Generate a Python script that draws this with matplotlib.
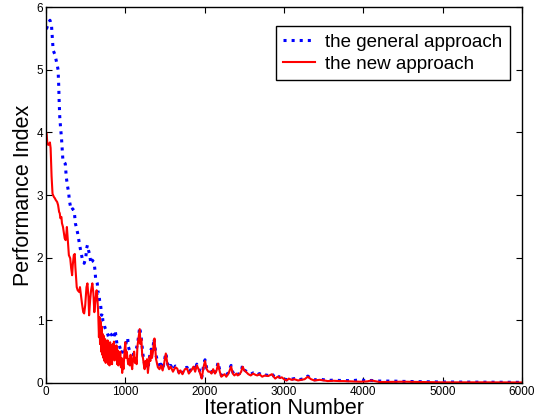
import numpy as np
import matplotlib
matplotlib.use("Agg")
import matplotlib.pyplot as plt

plt.rcParams['font.family'] = ['Liberation Sans', 'DejaVu Sans']

## Performance index, general approach (blue dotted)

general_iter = [0, 8, 25, 50, 70, 90, 110, 123, 140, 152, 160, 165, 173, 185, 194, 205, 214, 230, 243, 255,
                270, 284, 296, 310, 317, 337, 350, 358, 370, 385, 399, 420, 440, 461, 481, 490, 502, 512, 522, 535,
                552, 564, 575, 584, 595, 605, 617, 625, 646, 658, 667, 675, 688, 700, 708, 716, 728, 741, 755, 769,
                790, 811, 831, 852, 872, 893, 914, 935, 954, 975, 995, 1016, 1029, 1037, 1058, 1078, 1100, 1119, 1140, 1160,
                1181, 1202, 1222, 1243, 1263, 1284, 1305, 1325, 1346, 1360, 1387, 1410, 1430, 1448, 1470, 1490, 1510, 1530, 1550, 1572,
                1600, 1630, 1654, 1675, 1695, 1720, 1750, 1778, 1800, 1830, 1860, 1880, 1901, 1930, 1963, 1985, 2004, 2025, 2046, 2066,
                2086, 2107, 2130, 2150, 2169, 2190, 2210, 2230, 2250, 2272, 2300, 2333, 2355, 2374, 2400, 2416, 2440, 2460, 2478, 2500,
                2519, 2550, 2580, 2610, 2640, 2663, 2690, 2725, 2760, 2800, 2848, 2870, 2889, 2920, 2950, 2972, 3000, 3033, 3060, 3095,
                3130, 3177, 3220, 3260, 3300, 3340, 3383, 3450, 3506, 3550, 3620, 3700, 3753, 3850, 3959, 4050, 4100, 4206, 4370, 4500,
                5000, 5500, 6000]
general_perf = [5.66, 5.66, 5.72, 5.79, 5.69, 5.31, 5.25, 5.18, 5.08, 5.00, 4.75, 4.52, 4.25, 4.05, 3.93, 3.72, 3.53, 3.52, 3.50, 3.29,
                3.15, 3.05, 2.90, 2.80, 2.76, 2.78, 2.75, 2.71, 2.55, 2.47, 2.39, 2.23, 2.09, 1.96, 1.91, 1.95, 2.01, 2.15, 2.20, 2.12,
                2.04, 1.91, 1.95, 1.96, 1.94, 1.93, 1.80, 1.67, 1.59, 1.43, 1.43, 1.32, 1.25, 1.08, 1.11, 1.00, 0.97, 0.89, 0.85, 0.81,
                0.73, 0.79, 0.76, 0.71, 0.84, 0.63, 0.64, 0.55, 0.47, 0.55, 0.50, 0.71, 0.72, 0.58, 0.50, 0.47, 0.45, 0.50, 0.55, 0.68,
                0.89, 0.70, 0.45, 0.30, 0.34, 0.22, 0.42, 0.54, 0.52, 0.71, 0.44, 0.32, 0.24, 0.30, 0.22, 0.34, 0.48, 0.32, 0.24, 0.28,
                0.20, 0.27, 0.25, 0.17, 0.22, 0.16, 0.24, 0.25, 0.17, 0.22, 0.28, 0.20, 0.30, 0.22, 0.09, 0.27, 0.37, 0.24, 0.20, 0.19,
                0.17, 0.23, 0.17, 0.22, 0.33, 0.20, 0.12, 0.14, 0.15, 0.12, 0.17, 0.28, 0.17, 0.13, 0.16, 0.14, 0.15, 0.19, 0.28, 0.21,
                0.19, 0.15, 0.14, 0.16, 0.14, 0.13, 0.15, 0.12, 0.13, 0.12, 0.15, 0.11, 0.08, 0.11, 0.09, 0.10, 0.07, 0.05, 0.08, 0.06,
                0.07, 0.05, 0.06, 0.07, 0.11, 0.07, 0.05, 0.06, 0.05, 0.04, 0.045, 0.04, 0.04, 0.035, 0.05, 0.035, 0.04, 0.03, 0.03, 0.025,
                0.015, 0.012, 0.01]

## Performance index, new approach (red solid)

new_iter = [0, 8, 16, 28, 40, 49, 58, 70, 82, 99, 111, 123, 140, 152, 165, 173, 181, 194, 201, 214,
            225, 235, 247, 255, 263, 276, 288, 305, 317, 329, 337, 350, 362, 370, 387, 399, 420, 428, 440, 453,
            469, 481, 494, 510, 522, 535, 543, 556, 568, 584, 597, 609, 625, 638, 650, 658, 667, 674, 681, 688,
            695, 702, 709, 716, 723, 730, 737, 745, 752, 760, 768, 776, 784, 792, 800, 808, 816, 824, 832, 840,
            848, 856, 864, 872, 880, 888, 896, 904, 912, 920, 928, 936, 944, 952, 960, 968, 976, 984, 992, 1000,
            1008, 1016, 1025, 1035, 1045, 1055, 1066, 1076, 1086, 1096, 1111, 1121, 1132, 1142, 1152, 1165, 1175, 1181, 1190, 1202,
            1212, 1222, 1232, 1243, 1253, 1263, 1273, 1284, 1295, 1305, 1315, 1325, 1336, 1346, 1357, 1367, 1377, 1387, 1398, 1410,
            1430, 1448, 1470, 1490, 1510, 1530, 1550, 1572, 1600, 1630, 1654, 1675, 1695, 1720, 1750, 1778, 1800, 1830, 1860, 1880,
            1901, 1930, 1963, 1985, 2004, 2025, 2046, 2066, 2086, 2107, 2130, 2150, 2169, 2190, 2210, 2230, 2250, 2272, 2300, 2333,
            2355, 2374, 2400, 2416, 2440, 2460, 2478, 2500, 2519, 2550, 2580, 2610, 2640, 2663, 2690, 2725, 2760, 2800, 2848, 2870,
            2889, 2920, 2950, 2972, 3000, 3033, 3060, 3095, 3130, 3177, 3220, 3260, 3300, 3340, 3383, 3450, 3506, 3550, 3620, 3700,
            3753, 3850, 3959, 4050, 4100, 4206, 4500, 5000, 5500, 6000]
new_perf = [4.00, 3.98, 3.83, 3.80, 3.82, 3.84, 3.75, 3.30, 3.02, 2.97, 2.95, 2.92, 2.89, 2.84, 2.73, 2.71, 2.63, 2.65, 2.55, 2.49,
            2.40, 2.31, 2.28, 2.36, 2.49, 2.25, 2.04, 1.99, 1.83, 1.72, 1.88, 2.04, 2.06, 1.85, 1.53, 1.48, 1.45, 1.53, 1.40, 1.27,
            1.13, 1.11, 1.24, 1.53, 1.59, 1.37, 1.08, 1.32, 1.48, 1.59, 1.43, 1.13, 1.35, 1.48, 1.29, 1.11, 0.73, 1.05, 0.62, 0.98,
            0.50, 0.90, 0.45, 0.78, 0.40, 0.75, 0.35, 0.70, 0.32, 0.62, 0.40, 0.68, 0.30, 0.60, 0.28, 0.65, 0.35, 0.55, 0.30, 0.62,
            0.38, 0.66, 0.36, 0.55, 0.40, 0.60, 0.30, 0.52, 0.28, 0.48, 0.35, 0.50, 0.25, 0.40, 0.16, 0.35, 0.22, 0.40, 0.55, 0.65,
            0.40, 0.50, 0.42, 0.30, 0.38, 0.28, 0.45, 0.30, 0.22, 0.38, 0.50, 0.32, 0.40, 0.30, 0.58, 0.70, 0.80, 0.86, 0.62, 0.70,
            0.45, 0.40, 0.30, 0.22, 0.35, 0.28, 0.38, 0.16, 0.30, 0.42, 0.35, 0.52, 0.40, 0.48, 0.62, 0.71, 0.55, 0.38, 0.32, 0.25,
            0.22, 0.28, 0.20, 0.32, 0.47, 0.30, 0.22, 0.26, 0.18, 0.25, 0.23, 0.15, 0.20, 0.14, 0.22, 0.23, 0.15, 0.20, 0.26, 0.18,
            0.28, 0.20, 0.07, 0.25, 0.35, 0.22, 0.18, 0.18, 0.15, 0.22, 0.15, 0.20, 0.31, 0.18, 0.10, 0.12, 0.14, 0.10, 0.15, 0.26,
            0.15, 0.12, 0.15, 0.12, 0.14, 0.18, 0.26, 0.20, 0.18, 0.14, 0.12, 0.15, 0.13, 0.12, 0.14, 0.10, 0.12, 0.11, 0.14, 0.10,
            0.07, 0.10, 0.08, 0.09, 0.06, 0.04, 0.07, 0.05, 0.06, 0.04, 0.05, 0.06, 0.10, 0.06, 0.04, 0.05, 0.04, 0.03, 0.035, 0.03,
            0.03, 0.025, 0.02, 0.025, 0.04, 0.015, 0.02, 0.01, 0.01, 0.008]

fig = plt.figure(figsize=(5.44, 4.19), dpi=100)
ax = fig.add_axes([0.0846, 0.086, 0.875, 0.897])

ax.plot(general_iter, general_perf, color=(0, 0, 1), linestyle=':', linewidth=2.2, label="the general approach")
ax.plot(new_iter, new_perf, color=(1, 0, 0), linestyle='-', linewidth=1.5, label="the new approach")

ax.set_xlim(0, 6000)
ax.set_ylim(0, 6)
ax.set_xticks(np.arange(0, 6001, 1000))
ax.set_yticks(np.arange(0, 7, 1))
ax.tick_params(direction='in', top=True, right=True, length=4, width=0.8, labelsize=8.5, pad=2)
for spine in ax.spines.values():
    spine.set_linewidth(1.0)

ax.set_xlabel("Iteration Number", fontsize=15.5, labelpad=0)
ax.set_ylabel("Performance Index", fontsize=15.5, labelpad=2)

leg = ax.legend(loc='upper right', bbox_to_anchor=(0.975, 0.949), borderaxespad=0, fontsize=13.5,
                fancybox=False, framealpha=1, edgecolor='black', handlelength=1.7,
                borderpad=0.4, labelspacing=0.25, handletextpad=0.55)
leg.get_frame().set_linewidth(1.0)

fig.savefig("out.png", dpi=100)
